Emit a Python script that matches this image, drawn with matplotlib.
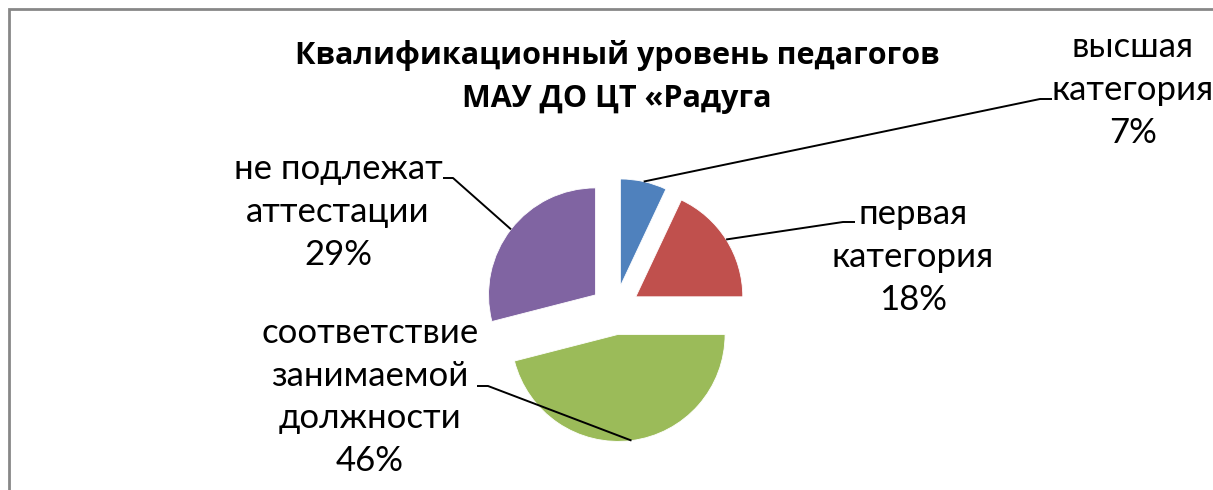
import matplotlib
matplotlib.use("Agg")
import matplotlib.pyplot as plt
from matplotlib.patches import Rectangle
import numpy as np

plt.rcParams["font.family"] = ["Lato", "DejaVu Sans"]

# data
categories = ["высшая\nкатегория", "первая\nкатегория",
              "соответствие\nзанимаемой\nдолжности", "не подлежат\nаттестации"]
shares = [7, 18, 46, 29]
colors = ["#4F81BD", "#C0504D", "#9BBB59", "#8064A2"]
title = "Квалификационный уровень педагогов\nМАУ ДО ЦТ «Радуга"

# label layout (pixel coords, y down)
label_pos = [(1133, 90), (913, 257), (370, 397), (338, 212)]
elbow = [(1040, 99), (843, 222), (488, 386), (453, 178)]
elbow_end = [(1052, 99), (855, 222), (477, 386), (443, 178)]

W, H = 1213, 490
fig = plt.figure(figsize=(W / 100, H / 100), dpi=100)
ax = fig.add_axes([0, 0, 1, 1])

R = 107
wedges, _ = ax.pie(shares, colors=colors, startangle=-90, counterclock=True,
                   explode=[0.23 * R] * 4, radius=R, center=(615, 310),
                   wedgeprops=dict(linewidth=0.6, edgecolor="white"))
ax.set_xlim(0, W)
ax.set_ylim(H, 0)
ax.set_aspect("auto")
ax.axis("off")

for w, lab, val, pos, el, ee in zip(wedges, categories, shares, label_pos, elbow, elbow_end):
    mid = np.deg2rad((w.theta1 + w.theta2) / 2)
    sx = w.center[0] + w.r * np.cos(mid)
    sy = w.center[1] + w.r * np.sin(mid)
    ax.plot([sx, el[0], ee[0]], [sy, el[1], ee[1]], color="black", lw=1.4,
            solid_capstyle="butt")
    ax.text(pos[0], pos[1], f"{lab}\n{val}%", ha="center", va="center",
            fontsize=25, linespacing=1.42)

ax.text(617, 77, title, ha="center", va="center", fontsize=22,
        fontweight="bold", linespacing=1.6, family=["Open Sans", "DejaVu Sans"])

fig.patches.append(Rectangle((9 / W, -0.1), 1.2, (H - 9) / H + 0.1,
                             transform=fig.transFigure, fill=False,
                             edgecolor="#878787", lw=2))

fig.savefig("out.png", dpi=100)
